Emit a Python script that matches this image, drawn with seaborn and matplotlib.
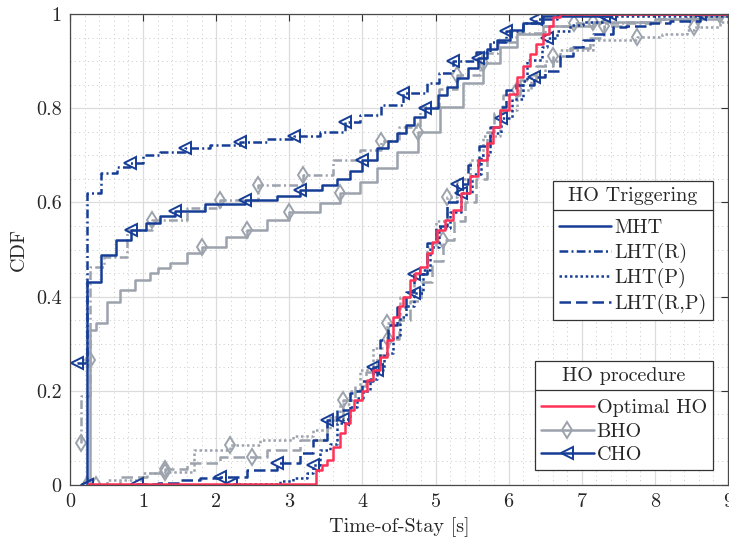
import numpy as np
import seaborn as sns
import matplotlib.pyplot as plt
from matplotlib.lines import Line2D
from matplotlib.ticker import MultipleLocator, FuncFormatter

BLUE = "#163d96"
GRAY = "#9ca3ad"
RED = "#ff3358"

# === Data (x: time-of-stay [s], y: CDF) ===
# CHO, MHT
cho_mht_x = [0.23, 0.23, 0.43, 0.63, 0.84, 1.04, 1.23, 1.44, 1.85, 2.39, 2.83, 3.15, 3.44, 3.65,
             3.83, 4.0, 4.2, 4.35, 4.47, 4.6, 4.7, 4.85, 5.03, 5.15, 5.29, 5.45, 5.58, 5.7, 5.84,
             6.02, 6.2, 6.47, 7.39, 9.0]
cho_mht_y = [0.0, 0.432, 0.488, 0.52, 0.541, 0.557, 0.571, 0.582, 0.597, 0.605, 0.613, 0.626,
             0.637, 0.649, 0.667, 0.69, 0.715, 0.73, 0.747, 0.765, 0.782, 0.8, 0.828, 0.845,
             0.864, 0.885, 0.906, 0.925, 0.945, 0.966, 0.98, 0.995, 1.0, 1.0]
# CHO, LHT(R)
cho_lhtr_x = [0.10, 0.23, 0.43, 0.64, 0.82, 1.0, 1.23, 1.57, 1.92, 2.33, 2.7, 3.07, 3.42, 3.76,
              3.97, 4.25, 4.56, 4.88, 5.05, 5.24, 5.56, 5.75, 5.97, 6.2, 6.38, 6.66, 7.0, 9.0]
cho_lhtr_y = [0.26, 0.619, 0.662, 0.675, 0.683, 0.70, 0.708, 0.715, 0.722, 0.729, 0.735, 0.741,
              0.75, 0.77, 0.786, 0.806, 0.832, 0.853, 0.875, 0.90, 0.92, 0.94, 0.963, 0.98,
              0.99, 0.998, 1.0, 1.0]
# CHO, LHT(P)
cho_lhtp_x = [0.23, 2.2, 2.87, 3.05, 3.24, 3.33, 3.42, 3.56, 3.65, 3.74, 3.83, 3.93, 4.01, 4.1,
              4.2, 4.3, 4.42, 4.51, 4.6, 4.7, 4.83, 4.92, 5.05, 5.2, 5.35, 5.5, 5.62, 5.75, 5.9,
              6.05, 6.2, 6.25, 6.45, 6.52, 6.66, 6.84, 7.02, 7.3, 9.0]
cho_lhtp_y = [0.0, 0.003, 0.008, 0.015, 0.025, 0.042, 0.074, 0.088, 0.131, 0.14, 0.165, 0.185,
              0.2, 0.225, 0.244, 0.28, 0.315, 0.357, 0.38, 0.407, 0.456, 0.506, 0.545, 0.58,
              0.62, 0.66, 0.7, 0.747, 0.78, 0.82, 0.857, 0.902, 0.93, 0.948, 0.963, 0.977,
              0.984, 0.995, 1.0]
# CHO, LHT(R,P)
cho_lhtrp_x = [0.23, 0.91, 1.2, 1.5, 1.78, 2.05, 2.42, 2.83, 3.15, 3.33, 3.51, 3.65, 3.83, 3.88,
               4.0, 4.15, 4.24, 4.35, 4.47, 4.6, 4.7, 4.88, 5.0, 5.15, 5.3, 5.45, 5.6, 5.75,
               5.88, 5.97, 6.1, 6.34, 6.5, 6.7, 6.88, 7.02, 7.16, 7.43, 7.61, 7.93, 8.2, 8.62, 9.0]
cho_lhtrp_y = [0.0, 0.002, 0.005, 0.01, 0.015, 0.018, 0.032, 0.046, 0.067, 0.096, 0.138, 0.159,
               0.195, 0.2, 0.22, 0.251, 0.308, 0.34, 0.378, 0.41, 0.449, 0.513, 0.55, 0.6,
               0.64, 0.68, 0.72, 0.76, 0.803, 0.839, 0.85, 0.867, 0.88, 0.91, 0.93, 0.945,
               0.958, 0.973, 0.975, 0.98, 0.985, 1.0, 1.0]
# BHO, MHT
bho_mht_x = [0.28, 0.28, 0.36, 0.5, 0.68, 0.89, 1.09, 1.2, 1.37, 1.6, 1.8, 2.14, 2.42, 2.69,
             2.99, 3.42, 3.69, 3.97, 4.2, 4.47, 4.76, 5.06, 5.38, 5.65, 5.88, 6.11, 6.47, 7.16,
             8.07, 8.89, 9.0]
bho_mht_y = [0.0, 0.329, 0.343, 0.389, 0.414, 0.435, 0.45, 0.46, 0.471, 0.492, 0.506, 0.527,
             0.541, 0.563, 0.58, 0.598, 0.62, 0.644, 0.672, 0.708, 0.75, 0.803, 0.853, 0.895,
             0.93, 0.958, 0.975, 0.982, 0.99, 0.998, 1.0]
# BHO, LHT(R)
bho_lhtr_x = [0.15, 0.15, 0.27, 0.27, 0.46, 0.78, 1.12, 1.6, 2.05, 2.57, 3.19, 3.6, 3.97, 4.25,
              4.5, 4.79, 5.05, 5.3, 5.61, 5.85, 6.1, 6.5, 6.9, 8.0, 8.6, 9.0]
bho_lhtr_y = [0.09, 0.19, 0.265, 0.463, 0.485, 0.541, 0.563, 0.588, 0.605, 0.637, 0.658, 0.69,
              0.711, 0.73, 0.76, 0.803, 0.84, 0.87, 0.917, 0.94, 0.96, 0.975, 0.98, 0.99,
              0.995, 1.0]
# BHO, LHT(P)
bho_lhtp_x = [0.23, 0.5, 1.0, 1.3, 1.69, 2.19, 2.6, 3.05, 3.33, 3.56, 3.69, 3.83, 3.97, 4.15,
              4.33, 4.51, 4.7, 4.88, 5.0, 5.15, 5.3, 5.47, 5.65, 5.88, 6.11, 6.3, 6.5, 6.7,
              7.16, 7.75, 8.1, 8.44, 8.53, 8.89, 9.0]
bho_lhtp_y = [0.0, 0.01, 0.025, 0.028, 0.074, 0.085, 0.096, 0.103, 0.117, 0.145, 0.173, 0.2,
              0.244, 0.29, 0.343, 0.4, 0.449, 0.506, 0.56, 0.612, 0.65, 0.69, 0.74, 0.796,
              0.839, 0.87, 0.9, 0.924, 0.945, 0.952, 0.958, 0.966, 0.973, 0.984, 0.99]
# BHO, LHT(R,P)
bho_lhtrp_x = [0.36, 0.68, 1.05, 1.3, 1.6, 2.05, 2.49, 2.69, 3.15, 3.51, 3.74, 3.9, 4.05, 4.2,
               4.35, 4.5, 4.65, 4.8, 4.95, 5.1, 5.25, 5.4, 5.55, 5.7, 5.8, 5.92, 6.15, 6.38,
               6.6, 6.84, 7.11, 7.3, 7.62, 8.0, 8.5, 8.9, 9.0]
bho_lhtrp_y = [0.0, 0.018, 0.025, 0.035, 0.046, 0.06, 0.06, 0.074, 0.096, 0.138, 0.18, 0.21,
               0.24, 0.275, 0.31, 0.35, 0.39, 0.43, 0.475, 0.52, 0.56, 0.6, 0.65, 0.75, 0.79,
               0.828, 0.86, 0.89, 0.91, 0.927, 0.948, 0.975, 0.984, 0.99, 0.995, 1.0, 1.0]
# Optimal HO
opt_x = [0.25, 3.37, 3.37, 3.45, 3.51, 3.6, 3.69, 3.76, 3.83, 3.88, 3.99, 4.06, 4.15, 4.24,
         4.33, 4.42, 4.5, 4.56, 4.65, 4.72, 4.79, 4.88, 4.95, 5.02, 5.13, 5.24, 5.35, 5.47,
         5.58, 5.7, 5.79, 5.88, 6.0, 6.11, 6.2, 6.29, 6.38, 6.47, 6.55, 6.61, 6.7, 9.0]
opt_y = [0.003, 0.005, 0.032, 0.042, 0.053, 0.081, 0.11, 0.131, 0.159, 0.18, 0.2, 0.223,
         0.244, 0.272, 0.308, 0.357, 0.38, 0.4, 0.435, 0.45, 0.463, 0.492, 0.515, 0.541,
         0.562, 0.584, 0.62, 0.655, 0.69, 0.726, 0.76, 0.796, 0.83, 0.867, 0.89, 0.916,
         0.937, 0.958, 0.975, 0.994, 1.0, 1.0]

trigger_labels = ["MHT", "LHT(R)", "LHT(P)", "LHT(R,P)"]
procedure_labels = ["Optimal HO", "BHO", "CHO"]

# line style per triggering scheme (dash lengths in linewidth units)
STYLES = {
    "MHT": "-",
    "LHT(R)": (0, (3.5, 1.3, 0.8, 1.3)),
    "LHT(P)": (0, (1.0, 1.1)),
    "LHT(R,P)": (0, (4.6, 2.0)),
}

# (x, y, color, trigger, marker, marker indices)
curves = [
    (bho_mht_x, bho_mht_y, GRAY, "MHT", "d", [10, 12, 14, 16, 20, 23, 27, 29]),
    (bho_lhtr_x, bho_lhtr_y, GRAY, "LHT(R)", "d", [0, 2, 6, 8, 9, 10, 13, 17, 22, 24]),
    (bho_lhtp_x, bho_lhtp_y, GRAY, "LHT(P)", "d", [0, 3, 5, 14, 19, 24, 29, 32]),
    (bho_lhtrp_x, bho_lhtrp_y, GRAY, "LHT(R,P)", "d", [0, 3, 6, 10, 14, 19, 28, 31, 34]),
    (cho_mht_x, cho_mht_y, BLUE, "MHT", "<", [0, 4, 7, 9, 11, 15, 21, 26, 32]),
    (cho_lhtr_x, cho_lhtr_y, BLUE, "LHT(R)", "<", [0, 4, 7, 9, 11, 13, 16, 19, 22, 24]),
    (cho_lhtp_x, cho_lhtp_y, BLUE, "LHT(P)", "<", [0, 1, 5, 9, 14, 19, 24, 28, 33, 37]),
    (cho_lhtrp_x, cho_lhtrp_y, BLUE, "LHT(R,P)", "<", [1, 5, 7, 10, 15, 20, 24, 31, 41]),
]

sns.set_theme(style="white")
plt.rcParams["font.family"] = "serif"
plt.rcParams["font.serif"] = ["cmr10"]
plt.rcParams["axes.formatter.use_mathtext"] = True
plt.rcParams["mathtext.fontset"] = "cm"
FS = 14.5

fig = plt.figure(figsize=(7.29, 5.44), dpi=100)
ax = fig.add_axes([70 / 729, 1 - 485 / 544, 658 / 729, 471 / 544])

for x, y, color, trig, marker, idx in curves:
    sns.lineplot(x=np.array(x), y=np.array(y), ax=ax, color=color, linestyle=STYLES[trig],
                 lw=1.8, marker=marker, ms=8.5, mfc="none", markeredgecolor=color,
                 markeredgewidth=1.4, markevery=idx, drawstyle="steps-post",
                 estimator=None, sort=False)

sns.lineplot(x=np.array(opt_x), y=np.array(opt_y), ax=ax, color=RED, lw=1.8,
             drawstyle="steps-post", estimator=None, sort=False)

ax.set_xlim(0, 9)
ax.set_ylim(0, 1)
ax.xaxis.set_major_locator(MultipleLocator(1))
ax.xaxis.set_minor_locator(MultipleLocator(0.2))
ax.yaxis.set_major_locator(MultipleLocator(0.2))
ax.yaxis.set_minor_locator(MultipleLocator(0.05))
ax.yaxis.set_major_formatter(FuncFormatter(lambda v, _: f"{v:g}"))
ax.xaxis.set_major_formatter(FuncFormatter(lambda v, _: f"{v:g}"))
ax.grid(True, which="major", color="#dcdcdc", lw=0.9, ls="-")
ax.grid(True, which="minor", color="#cacaca", lw=0.7, ls=(0, (1, 3.5)))
ax.set_axisbelow(True)
ax.tick_params(which="major", direction="in", top=True, right=True, length=5, width=0.8,
               color="#333333", labelsize=FS, pad=6)
ax.tick_params(which="minor", length=0)
for s in ax.spines.values():
    s.set_color("#4a4a4a")
    s.set_linewidth(0.9)

ax.set_xlabel("Time-of-Stay [s]", fontsize=FS, labelpad=4)
ax.set_ylabel("CDF", fontsize=FS, labelpad=6)

# legends
trig_handles = [Line2D([], [], color=BLUE, lw=1.8, ls=STYLES[t]) for t in trigger_labels]
proc_handles = [
    Line2D([], [], color=RED, lw=1.8),
    Line2D([], [], color=GRAY, lw=1.8, marker="d", ms=8.5, mfc="none", mew=1.4),
    Line2D([], [], color=BLUE, lw=1.8, marker="<", ms=8.5, mfc="none", mew=1.4),
]
leg_kw = dict(fontsize=FS, title_fontsize=FS, frameon=True, fancybox=False, framealpha=1,
              edgecolor="#333333", borderpad=0.3, labelspacing=0.27, handlelength=2.6,
              handletextpad=0.15, borderaxespad=0)
leg1 = ax.legend(trig_handles, trigger_labels, title="HO Triggering", loc="upper right",
                 bbox_to_anchor=(0.977, 0.645), **leg_kw)
ax.add_artist(leg1)
leg2 = ax.legend(proc_handles, procedure_labels, title="HO procedure", loc="upper right",
                 bbox_to_anchor=(0.977, 0.263), **leg_kw)
for leg in (leg1, leg2):
    leg.get_frame().set_linewidth(0.9)
    leg._legend_box.sep = 10  # more room under the title for the separator

# separator line between legend titles and entries
fig.canvas.draw()
W, H = fig.bbox.width, fig.bbox.height
for leg in (leg1, leg2):
    bb = leg.get_window_extent()
    tb = leg.get_title().get_window_extent()
    yl = tb.y0 - 5
    fig.add_artist(Line2D([bb.x0 / W, bb.x1 / W], [yl / H, yl / H], color="#333333", lw=0.9,
                          transform=fig.transFigure))

fig.savefig("out.png", dpi=100)
